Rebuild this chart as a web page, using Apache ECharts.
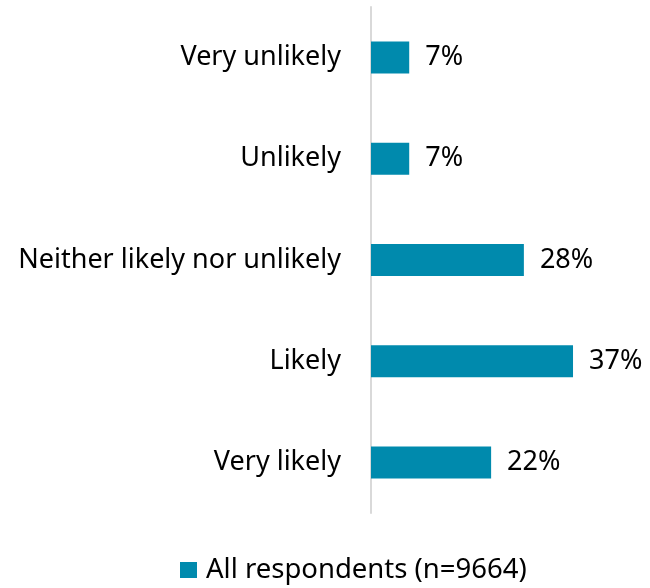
<!DOCTYPE html>
<html>
<head>
<meta charset="utf-8">
<script src="https://cdn.jsdelivr.net/npm/echarts@6/dist/echarts.min.js"></script>
<style>html,body{margin:0;padding:0;background:#fff;}#c{width:650px;height:588px;}</style>
</head>
<body>
<div id="c"></div>
<script>
const categories = ["Very unlikely", "Unlikely", "Neither likely nor unlikely", "Likely", "Very likely"];
const values = [7, 7, 28, 37, 22];
const seriesName = "All respondents (n=9664)";

const FONT = "Noto Sans";
const chart = echarts.init(document.getElementById('c'), null, {renderer: 'canvas'});
chart.setOption({
  animation: false,
  backgroundColor: '#ffffff',
  grid: {left: 371, top: 7, bottom: 75, right: 60.6, containLabel: false},
  xAxis: {type: 'value', min: 0, max: 40, show: false},
  yAxis: {
    type: 'category', data: categories, inverse: true,
    axisLine: {show: true, lineStyle: {color: '#d9d9d9', width: 2}},
    axisTick: {show: false},
    axisLabel: {color: '#000', fontFamily: FONT, fontSize: 27, margin: 30}
  },
  legend: {
    top: 556, left: 180, icon: 'rect', itemWidth: 17, itemHeight: 16, padding: 0,
    textStyle: {color: '#000', fontFamily: FONT, fontSize: 27.5, padding: [0, 0, 0, 4]}
  },
  series: [{
    name: seriesName, type: 'bar', data: values, barWidth: 32,
    itemStyle: {color: '#008aad'},
    label: {show: true, position: 'right', distance: 16, formatter: '{c}%', color: '#000', fontFamily: FONT, fontSize: 27}
  }]
});
</script>
</body>
</html>
